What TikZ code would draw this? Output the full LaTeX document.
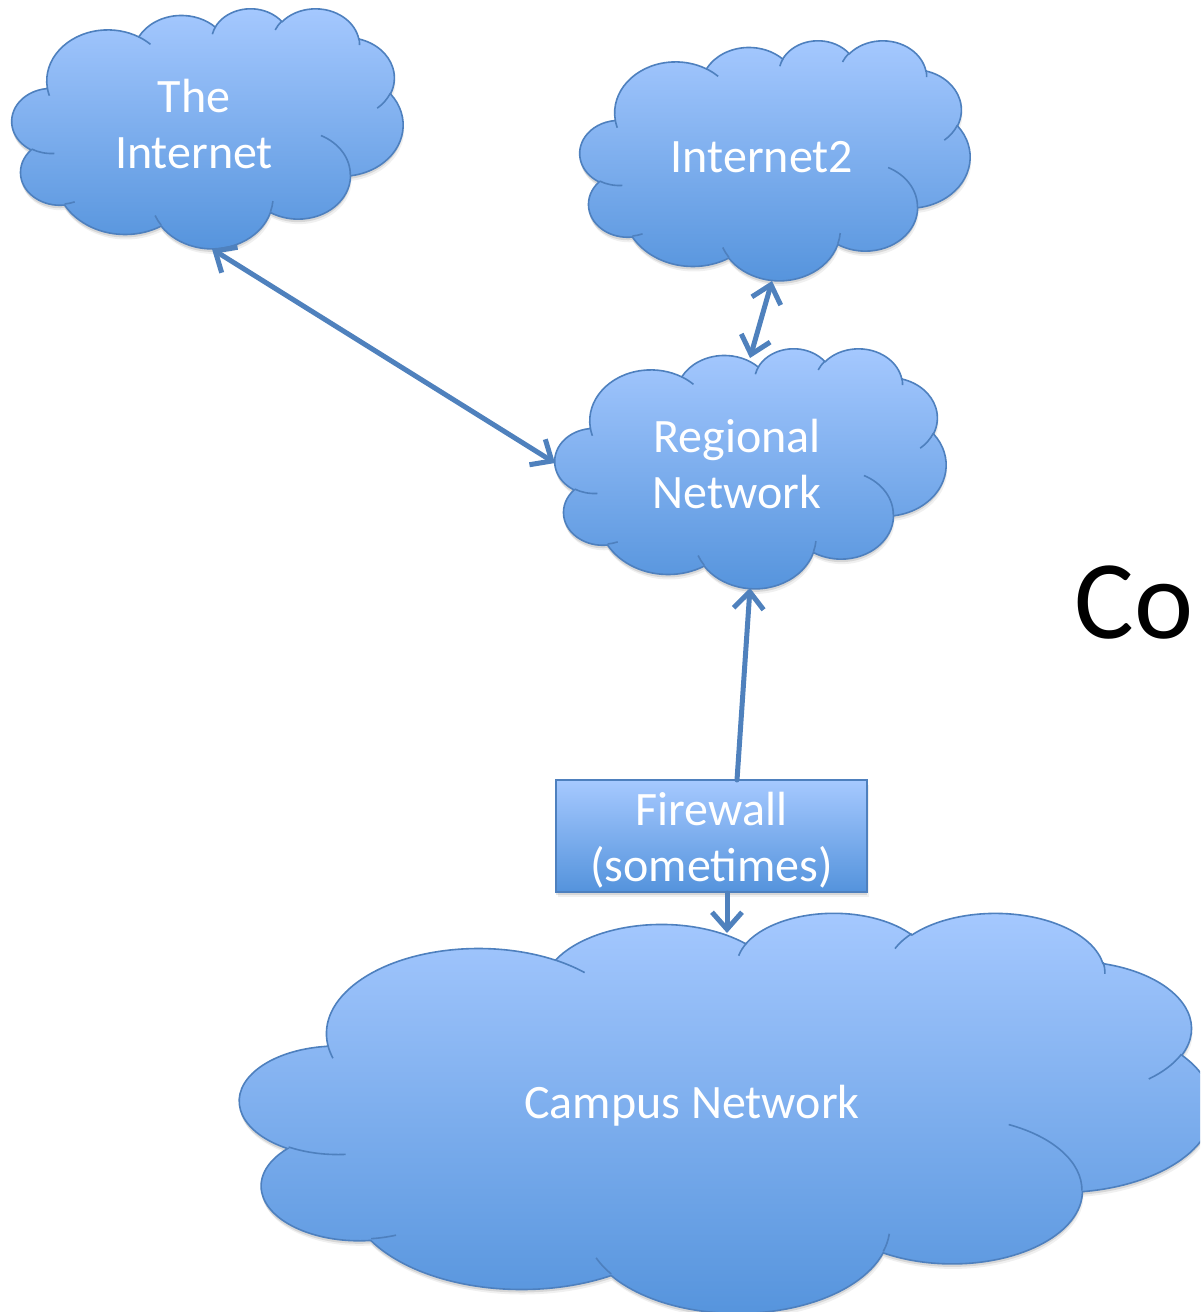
\documentclass[tikz,border=0pt]{standalone}
\usepackage{fontspec}
\setmainfont{Carlito}
\usetikzlibrary{arrows.meta}
\definecolor{ctop}{RGB}{166,201,255}
\definecolor{cbot}{RGB}{84,147,220}
\definecolor{cline}{RGB}{78,128,190}
\definecolor{arrc}{RGB}{79,129,189}
% PowerPoint-style arcTo: rx, ry, start angle, sweep (visual angles, y down)
\newcommand\ooarc[4]{arc[x radius=#1pt, y radius=#2pt,
  start angle={-atan2(#1*sin(#3),#2*cos(#3))},
  delta angle={-mod(atan2(#1*sin(#3+#4),#2*cos(#3+#4))-atan2(#1*sin(#3),#2*cos(#3))+720,360)}]}
\newcommand\cloudouter{(39.00,-143.70)
  \ooarc{67.53}{91.90}{-190.4875}{123.7805}
  \ooarc{53.33}{72.67}{-144.1024}{89.9452}
  \ooarc{43.65}{59.45}{-145.8079}{99.7230}
  \ooarc{48.57}{65.95}{-130.9861}{117.2417}
  \ooarc{53.33}{72.73}{-78.7089}{109.0269}
  \ooarc{67.75}{92.20}{-46.2673}{130.2690}
  \ooarc{57.85}{78.67}{0.6250}{114.0333}
  \ooarc{67.52}{92.15}{22.4516}{115.1726}
  \ooarc{77.20}{105.43}{66.2426}{75.7110}
  \ooarc{43.60}{59.18}{-274.9421}{146.7356}
  \ooarc{43.45}{59.45}{-246.8285}{152.5189} -- cycle}
\newcommand\cloudinner{
  (46.93,-261.77) \ooarc{43.45}{59.45}{86.7420}{26.4295}
  (69.28,-348.99) \ooarc{43.60}{59.18}{73.6105}{11.4475}
  (164.78,-390.90) \ooarc{67.52}{92.15}{137.6242}{14.0811}
  (288.27,-347.51) \ooarc{67.52}{92.15}{6.4533}{15.9984}
  (341.29,-229.54) \ooarc{57.85}{78.67}{-70.2924}{70.9174}
  (417.98,-153.54) \ooarc{53.33}{72.73}{30.3180}{27.7515}
  (383.24,-54.26) \ooarc{48.57}{65.95}{-13.7443}{14.8589}
  (290.78,-39.52) \ooarc{48.57}{65.95}{-149.1815}{18.1954}
  (221.41,-47.20) \ooarc{43.65}{59.45}{-163.4943}{17.6864}
  (140.00,-51.92) \ooarc{67.53}{91.90}{-66.7070}{12.3194}
  (41.27,-157.89) \ooarc{67.53}{91.90}{157.6544}{11.8582}}
% x, y (top-left, pixels), width, height
\newcommand\drawcloud[4]{%
  \begin{scope}[shift={(#1+1,-#2-5)}, xscale=#3/432, yscale=#4/432]
    \fill[black, opacity=0.06] \cloudouter;
  \end{scope}
  \begin{scope}[shift={(#1,-#2-3)}, xscale=#3/432, yscale=#4/432]
    \fill[black, opacity=0.10] \cloudouter;
  \end{scope}
  \begin{scope}[shift={(#1,-#2)}, xscale=#3/432, yscale=#4/432]
    \path[cloudfill] \cloudouter;
    \draw[cloudline] \cloudinner;
  \end{scope}}
\begin{document}
\begin{tikzpicture}[x=1pt, y=1pt,
  cloudfill/.style={draw=cline, line width=1.6pt, top color=ctop, bottom color=cbot},
  cloudline/.style={draw=cline, line width=1.6pt},
  cloudtext/.style={text=white, align=center, font=\fontsize{48}{56}\selectfont},
  fwbox/.style={draw=cline, line width=1.6pt, top color=ctop, bottom color=cbot,
    minimum width=311pt, minimum height=112pt, inner sep=0pt},
  conn/.style={draw=arrc, line width=5pt, line cap=round},
  >={Straight Barb[length=17pt,width=30pt]}]
\clip (0,0) rectangle (1200,-1312);
\fill[white] (0,0) rectangle (1200,-1312);

% clouds
\drawcloud{12}{8}{391}{240}
\drawcloud{580}{40}{390}{240}
\drawcloud{555}{348}{391}{240}
\drawcloud{240}{912}{973}{400}

% firewall box
\fill[black, opacity=0.06] (557.5,-785) rectangle (868.5,-897);
\fill[black, opacity=0.10] (556,-783) rectangle (867,-895);
\node[fwbox] (fw) at (711.5,-836) {};

% texts
\node[cloudtext] (inet) at (194,-124) {The\\Internet};
\node[cloudtext] (inet2) at (762,-157) {Internet2};
\node[cloudtext] (reg) at (737,-464) {Regional\\Network};
\node[cloudtext] (fwt) at (711.5,-840) {Firewall\\(sometimes)};
\node[cloudtext] (camp) at (692,-1106) {Campus Network};
\node[anchor=base west, font=\fontsize{112}{130}\selectfont, text=black] (co) at (1071,-638) {Co};

% connector ends
\coordinate (inetS) at (212,-249);
\coordinate (regW) at (555,-463);
\coordinate (i2S) at (772,-281);
\coordinate (regN) at (750,-358);
\coordinate (regS) at (750,-588);
\coordinate (fwN) at (737,-780);
\coordinate (fwS) at (727,-893);
\coordinate (campN) at (727,-933);

\draw[conn,<->] (inetS) -- (regW);
\draw[conn,<->] (i2S) -- (regN);
\draw[conn,->] (fwN) -- (regS);
\draw[conn,->] (fwS) -- (campN);
\end{tikzpicture}
\end{document}
